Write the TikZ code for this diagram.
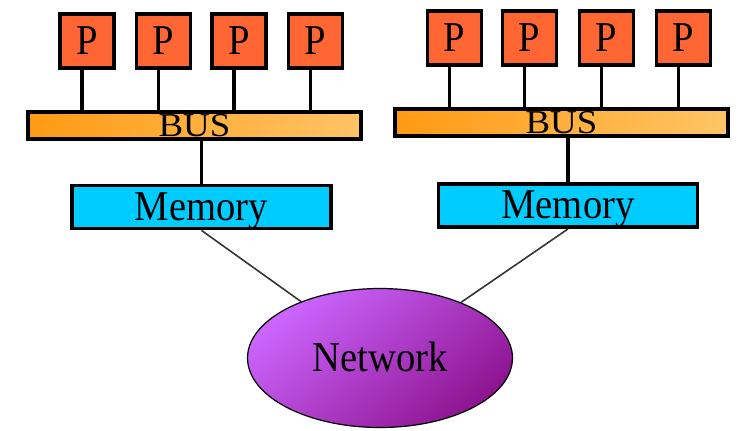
\documentclass[tikz,border=0pt]{standalone}
\usepackage{fontspec}
\setmainfont{Liberation Serif}
\usetikzlibrary{shapes.geometric}
\definecolor{procfill}{HTML}{FF6633}
\definecolor{busleft}{HTML}{FF9A14}
\definecolor{busright}{HTML}{FFC466}
\definecolor{memfill}{HTML}{00CCFF}
\definecolor{netlight}{HTML}{CC66FF}
\definecolor{netdark}{HTML}{8E1490}
\begin{document}
\begin{tikzpicture}[x=0.02cm, y=-0.02cm, line width=2.2pt,
proc node/.style={rectangle,draw,fill=procfill,minimum width=1.08cm,minimum height=1.08cm,inner sep=0pt},
bus node/.style={rectangle,draw,left color=busleft,right color=busright,minimum width=6.66cm,minimum height=0.54cm,inner sep=0pt},
mem node/.style={rectangle,draw,fill=memfill,minimum width=5.18cm,minimum height=0.86cm,inner sep=0pt},
net node/.style={ellipse,draw,line width=0.7pt,top color=netlight,bottom color=netdark,shading angle=40,minimum width=5.3cm,minimum height=2.78cm,inner sep=0pt},
thin link/.style={line width=0.9pt,draw=black!80}]
\useasboundingbox (0,0) rectangle (740,430);
\begin{scope}[every node/.style={font=\fontsize{22}{24}\selectfont,text height=0.52cm,text depth=0pt}]
\node[proc node] (p1) at (87,41) {\scalebox{1}[1.1]{P}};
\node[proc node] (p2) at (163.5,41) {\scalebox{1}[1.1]{P}};
\node[proc node] (p3) at (239,41) {\scalebox{1}[1.1]{P}};
\node[proc node] (p4) at (315.5,41) {\scalebox{1}[1.1]{P}};
\node[proc node] (p5) at (454.5,38) {\scalebox{1}[1.1]{P}};
\node[proc node] (p6) at (529.5,38) {\scalebox{1}[1.1]{P}};
\node[proc node] (p7) at (606.5,38) {\scalebox{1}[1.1]{P}};
\node[proc node] (p8) at (683.5,38) {\scalebox{1}[1.1]{P}};
\node[bus node,font=\fontsize{20}{22}\selectfont,text height=0.44cm] (bus1) at (194.5,125.5) {\scalebox{1.05}[0.95]{BUS}};
\node[bus node,font=\fontsize{20}{22}\selectfont,text height=0.44cm] (bus2) at (561.5,122.5) {\scalebox{1.05}[0.95]{BUS}};
\node[mem node] (mem1) at (201.5,207) {\scalebox{1}[1.1]{Memory}};
\node[mem node] (mem2) at (568,205.5) {\scalebox{1}[1.1]{Memory}};
\node[net node] (net) at (380,358) {\scalebox{1}[1.1]{Network}};
\end{scope}
\begin{scope}
\foreach \p/\b in {p1/bus1,p2/bus1,p3/bus1,p4/bus1,p5/bus2,p6/bus2,p7/bus2,p8/bus2}
  \draw ([xshift=-0.1cm]\p.south) -- ([xshift=-0.1cm]\p.south |- \b.north);
\draw (mem1.north) -- (mem1.north |- bus1.south);
\draw (mem2.north) -- (mem2.north |- bus2.south);
\draw[thin link] (mem1.south) -- (net);
\draw[thin link] (mem2.south) -- (net);
\end{scope}
\end{tikzpicture}
\end{document}
